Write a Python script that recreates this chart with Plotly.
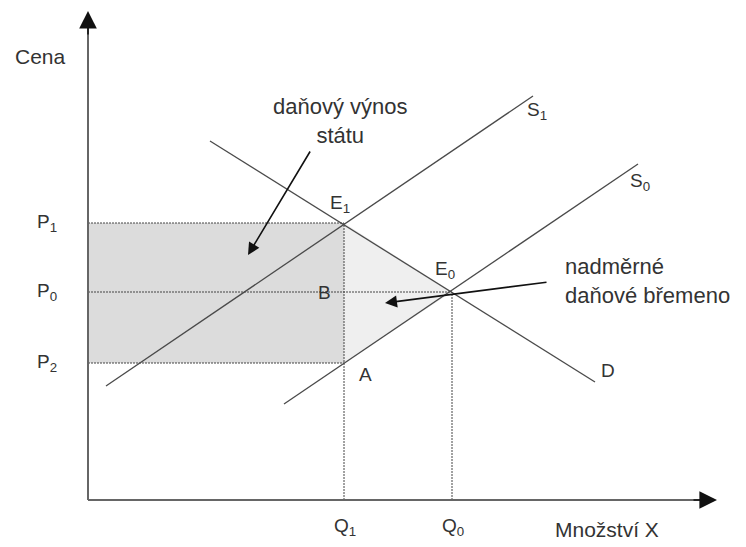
import plotly.graph_objects as go

# ---- data (economic units) ----
D_q = [12.2, 50.7]
D_p = [35.9, 11.8]
S1_q = [1.8, 44.5]
S1_p = [11.4, 40.4]
S0_q = [19.6, 55.0]
S0_p = [9.6, 33.6]

Q1 = 25.6
Q0 = 36.4
P1 = 27.7
P0 = 20.8
P2 = 13.7

X_MAX = 62.9
Y_MAX = 48.9

FONT = "Liberation Sans"
TXT = "#333333"
LINE = "#4a4a4a"

fig = go.Figure()

# tax revenue rectangle
fig.add_trace(go.Scatter(x=[0, Q1, Q1, 0, 0], y=[P2, P2, P1, P1, P2], fill="toself",
                         fillcolor="#dcdcdc", line=dict(width=0), mode="lines", hoverinfo="skip"))
# deadweight loss triangle
fig.add_trace(go.Scatter(x=[Q1, Q0, Q1, Q1], y=[P1, P0, P2, P1], fill="toself",
                         fillcolor="#efefef", line=dict(width=0), mode="lines", hoverinfo="skip"))

dot = dict(color="#444444", width=1, dash="2px,1px")
for xs, ys in [([0, Q1], [P1, P1]), ([0, Q0], [P0, P0]), ([0, Q1], [P2, P2]),
               ([Q1, Q1], [0, P1]), ([Q0, Q0], [0, P0])]:
    fig.add_trace(go.Scatter(x=xs, y=ys, mode="lines", line=dot, hoverinfo="skip"))

for xs, ys in [(D_q, D_p), (S1_q, S1_p), (S0_q, S0_p)]:
    fig.add_trace(go.Scatter(x=xs, y=ys, mode="lines", line=dict(color=LINE, width=1.3), hoverinfo="skip"))

# axes
fig.add_shape(type="line", x0=0, y0=0, x1=X_MAX - 1.5, y1=0, line=dict(color="#666666", width=2))
fig.add_shape(type="line", x0=0, y0=0, x1=0, y1=Y_MAX - 1.5, line=dict(color="#666666", width=2))

ann = []
def arrow(x, y, ax, ay, size, width):
    ann.append(dict(x=x, y=y, ax=ax, ay=ay, xref="x", yref="y", axref="x", ayref="y",
                    text="", showarrow=True, arrowhead=2, arrowsize=size, arrowwidth=width,
                    arrowcolor="#111111"))

arrow(X_MAX, 0, X_MAX - 2.5, 0, 2.2, 1.6)
arrow(0, Y_MAX, 0, Y_MAX - 2.5, 2.2, 1.6)
arrow(16.0, 24.5, 22.3, 35.0, 1.5, 1.6)
arrow(29.7, 19.7, 46.0, 21.8, 1.5, 1.6)

def label(x, y, text, size=18, xanchor="center", align="center"):
    ann.append(dict(x=x, y=y, xref="x", yref="y", text=text, showarrow=False,
                    xanchor=xanchor, yanchor="middle", align=align,
                    font=dict(family=FONT, size=size, color=TXT)))

label(-4.8, 44.4, "Cena", 21)
label(-4.1, P1, "P<sub>1</sub>", 19)
label(-4.1, P0, "P<sub>0</sub>", 19)
label(-4.1, P2, "P<sub>2</sub>", 19)
label(Q1 + 0.1, -2.7, "Q<sub>1</sub>", 19)
label(Q0 + 0.1, -2.7, "Q<sub>0</sub>", 19)
label(51.9, -2.9, "Množství X", 21)
label(25.2, 29.6, "E<sub>1</sub>", 19)
label(35.7, 23.0, "E<sub>0</sub>", 19)
label(23.6, 20.8, "B", 19)
label(27.7, 12.6, "A", 19)
label(44.9, 38.9, "S<sub>1</sub>", 19)
label(55.2, 31.8, "S<sub>0</sub>", 19)
label(52.0, 13.0, "D", 19)
label(25.2, 37.9, "daňový výnos<br>státu", 22)
label(47.5, 21.9, "nadměrné<br>daňové břemeno", 22, xanchor="left", align="left")

# the page body adds an 8px margin, so the figure is sized to fit the window
fig.update_layout(
    width=738, height=539,
    margin=dict(l=0, r=0, t=0, b=0),
    paper_bgcolor="white", plot_bgcolor="white",
    showlegend=False,
    xaxis=dict(range=[-8.0, 65.8], visible=False, fixedrange=True),
    yaxis=dict(range=[-4.7, 49.2], visible=False, fixedrange=True),
    annotations=ann,
)

fig.write_html("out.html")
